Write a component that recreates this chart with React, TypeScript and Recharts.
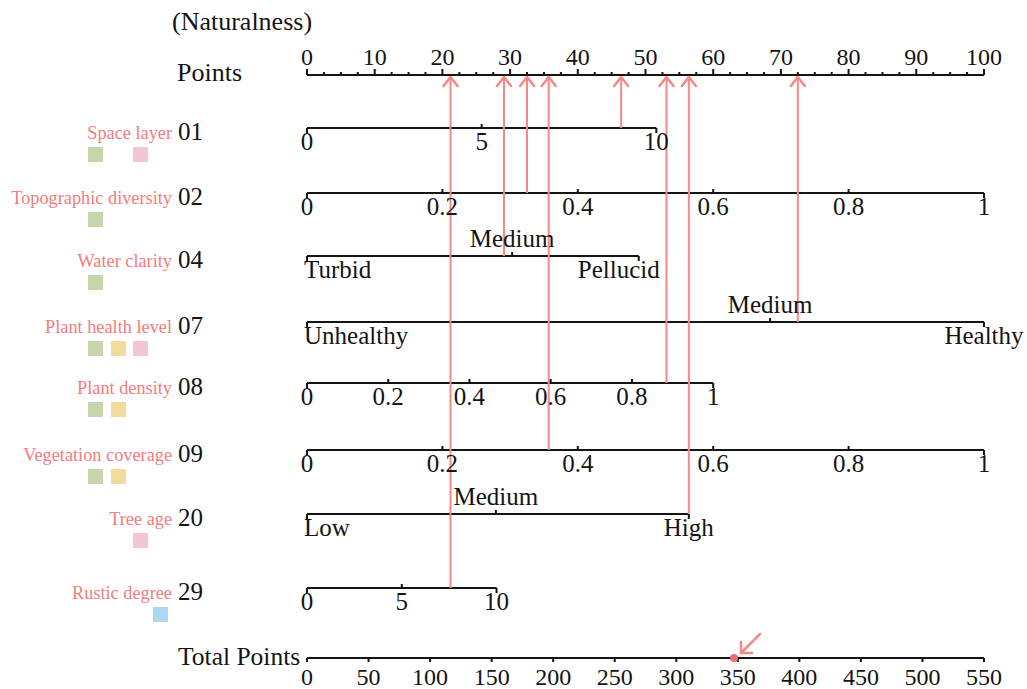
import React from 'react';
import { ComposedChart, XAxis, YAxis, Scatter, ReferenceLine } from 'recharts';

const W = 1027;
const H = 689;
const FONT = '"Liberation Serif", "Times New Roman", Times, serif';
const INK = '#141414';
const NAME_RED = '#f47c7c';
const ARROW_RED = '#f78888';

const GROUP_COLORS: Record<string, string> = {
  green: '#c6d6aa',
  yellow: '#f2dc9b',
  pink: '#f3c6d6',
  blue: '#afd6ef',
};
// horizontal offset of each group swatch from the start of the scales
const GROUP_OFFSET: Record<string, number> = { green: -219, yellow: -196, pink: -174, blue: -154 };

// ---- Points axis (0–100) ----
const pointsMajorTicks = [0, 10, 20, 30, 40, 50, 60, 70, 80, 90, 100];
const pointsMinorStep = 2.5;

// ---- Total points axis ----
const totalTicks = [0, 50, 100, 150, 200, 250, 300, 350, 400, 450, 500, 550];
const totalMax = 550;

// ---- Factors ----
const factorNames = [
  'Space layer',
  'Topographic diversity',
  'Water clarity',
  'Plant health level',
  'Plant density',
  'Vegetation coverage',
  'Tree age',
  'Rustic degree',
];
const factorCodes = ['01', '02', '04', '07', '08', '09', '20', '29'];
const factorGroups = [
  ['green', 'pink'],
  ['green'],
  ['green'],
  ['green', 'yellow', 'pink'],
  ['green', 'yellow'],
  ['green', 'yellow'],
  ['pink'],
  ['blue'],
];

// Numeric scales: tick values and the points reached at the top value
const spaceLayerValues = [0, 5, 10];
const spaceLayerTopPoints = 51.6;
const topographicValues = [0, 0.2, 0.4, 0.6, 0.8, 1];
const topographicTopPoints = 100;
const plantDensityValues = [0, 0.2, 0.4, 0.6, 0.8, 1];
const plantDensityTopPoints = 60;
const coverageValues = [0, 0.2, 0.4, 0.6, 0.8, 1];
const coverageTopPoints = 100;
const rusticValues = [0, 5, 10];
const rusticTopPoints = 28;

// Ordinal scales: levels and the points of each level
const waterLevels = ['Turbid', 'Medium', 'Pellucid'];
const waterPoints = [0, 30.3, 49.0];
const healthLevels = ['Unhealthy', 'Medium', 'Healthy'];
const healthPoints = [0, 68.4, 100];
const treeAgeLevels = ['Low', 'Medium', 'High'];
const treeAgePoints = [0, 27.9, 56.4];

// Points picked up on each factor scale for the scored site
const profilePoints = [46.4, 32.5, 29.1, 72.5, 53.1, 35.7, 56.4, 21.2];

// ---- Vertical layout of the scales ----
const LAYOUT = {
  pointsY: 75,
  factorY: [128, 193, 256, 322, 383, 450, 514, 588],
  totalY: 658,
};

type Mark = {
  x: number;
  y: number;
  label: string;
  end: boolean;
  above: boolean;
  anchor: 'start' | 'middle' | 'end';
  dx: number;
};

function numericScale(values: number[], topPoints: number, y: number): Mark[] {
  const maxV = values[values.length - 1];
  return values.map((v, i) => ({
    x: (v / maxV) * topPoints,
    y,
    label: String(v),
    end: i === 0 || i === values.length - 1,
    above: false,
    anchor: 'middle',
    dx: 0,
  }));
}

function levelScale(levels: string[], points: number[], y: number, lastDx = 0): Mark[] {
  const last = levels.length - 1;
  return levels.map((l, i) => ({
    x: points[i],
    y,
    label: l,
    end: i === 0 || i === last,
    above: i > 0 && i < last,
    anchor: i === 0 ? 'start' : 'middle',
    dx: i === 0 ? -3 : i === last ? lastDx : 0,
  }));
}

const fy = LAYOUT.factorY;
const factorScales: Mark[][] = [
  numericScale(spaceLayerValues, spaceLayerTopPoints, fy[0]),
  numericScale(topographicValues, topographicTopPoints, fy[1]),
  levelScale(waterLevels, waterPoints, fy[2], -20),
  levelScale(healthLevels, healthPoints, fy[3]),
  numericScale(plantDensityValues, plantDensityTopPoints, fy[4]),
  numericScale(coverageValues, coverageTopPoints, fy[5]),
  levelScale(treeAgeLevels, treeAgePoints, fy[6]),
  numericScale(rusticValues, rusticTopPoints, fy[7]),
];
const factorMarks = factorScales.flat();

const pointsMarks = (() => {
  const out: { x: number; y: number; major: boolean; label: string }[] = [];
  const count = Math.round(100 / pointsMinorStep);
  for (let i = 0; i <= count; i++) {
    const v = i * pointsMinorStep;
    const major = pointsMajorTicks.includes(v);
    out.push({ x: v, y: LAYOUT.pointsY, major, label: major ? String(v) : '' });
  }
  return out;
})();

const totalToPoints = (t: number) => (t / totalMax) * 100;
const totalMarks = totalTicks.map((t) => ({ x: totalToPoints(t), y: LAYOUT.totalY, label: String(t) }));

const factorLabelData = factorNames.map((name, i) => ({
  x: 0,
  y: fy[i],
  name,
  code: factorCodes[i],
  groups: factorGroups[i],
}));

const arrowData = profilePoints.map((p, i) => ({ x: p, y: LAYOUT.pointsY, from: fy[i] }));
const totalScore = profilePoints.reduce((a, b) => a + b, 0);
const totalDot = [{ x: totalToPoints(totalScore), y: LAYOUT.totalY, total: totalScore }];

// ---- shapes ----
const PointsTick = (props: any) => {
  const { cx, cy, payload } = props;
  return (
    <g>
      <line x1={cx} x2={cx} y1={cy} y2={payload.major ? cy - 6 : cy - 3} stroke={INK} strokeWidth={2} />
      {payload.major && (
        <text x={cx} y={cy - 10} textAnchor="middle" fontFamily={FONT} fontSize={24} fill={INK}>
          {payload.label}
        </text>
      )}
    </g>
  );
};

const FactorTick = (props: any) => {
  const { cx, cy, payload } = props;
  const m: Mark = payload;
  return (
    <g>
      <line x1={cx} x2={cx} y1={cy} y2={m.end ? cy + 5 : cy - 4} stroke={INK} strokeWidth={2} />
      <text
        x={cx + m.dx}
        y={m.above ? cy - 9 : cy + 22}
        textAnchor={m.anchor}
        fontFamily={FONT}
        fontSize={25}
        fill={INK}
      >
        {m.label}
      </text>
    </g>
  );
};

const TotalTick = (props: any) => {
  const { cx, cy, payload } = props;
  return (
    <g>
      <line x1={cx} x2={cx} y1={cy} y2={cy + 4} stroke={INK} strokeWidth={2} />
      <text x={cx} y={cy + 27} textAnchor="middle" fontFamily={FONT} fontSize={24} fill={INK}>
        {payload.label}
      </text>
    </g>
  );
};

const FactorLabel = (props: any) => {
  const { cx, cy, payload } = props;
  return (
    <g>
      <text x={cx - 135} y={cy + 11} textAnchor="end" fontFamily={FONT} fontSize={18.3} fill={NAME_RED}>
        {payload.name}
      </text>
      <text x={cx - 129} y={cy + 12} textAnchor="start" fontFamily={FONT} fontSize={25} fill={INK}>
        {payload.code}
      </text>
      {payload.groups.map((g: string) => (
        <rect key={g} x={cx + GROUP_OFFSET[g]} y={cy + 19} width={15} height={15} fill={GROUP_COLORS[g]} />
      ))}
    </g>
  );
};

const PointsHeader = (props: any) => {
  const { cx, cy } = props;
  return (
    <g>
      <text x={cx - 135} y={cy - 45} fontFamily={FONT} fontSize={26} fill={INK}>
        (Naturalness)
      </text>
      <text x={cx - 130} y={cy + 6} fontFamily={FONT} fontSize={26} fill={INK}>
        Points
      </text>
    </g>
  );
};

const TotalHeader = (props: any) => {
  const { cx, cy } = props;
  return (
    <text x={cx - 129} y={cy + 7} fontFamily={FONT} fontSize={25.5} fill={INK}>
      Total Points
    </text>
  );
};

const ArrowHead = (props: any) => {
  const { cx, cy } = props;
  return (
    <polyline
      points={`${cx - 7},${cy + 11} ${cx},${cy + 2} ${cx + 7},${cy + 11}`}
      fill="none"
      stroke={ARROW_RED}
      strokeWidth={2.5}
      strokeLinecap="round"
      strokeLinejoin="round"
    />
  );
};

const TotalDot = (props: any) => {
  const { cx, cy } = props;
  const tx = cx + 7;
  const ty = cy - 5;
  return (
    <g>
      <circle cx={cx} cy={cy} r={4} fill="#f26d6d" />
      <line x1={tx} y1={ty} x2={tx + 19} y2={ty - 19} stroke={ARROW_RED} strokeWidth={2.5} strokeLinecap="round" />
      <polyline
        points={`${tx},${ty - 11} ${tx},${ty} ${tx + 11},${ty}`}
        fill="none"
        stroke={ARROW_RED}
        strokeWidth={2.5}
        strokeLinecap="round"
        strokeLinejoin="round"
      />
    </g>
  );
};

export default function App() {
  return (
    <div style={{ position: 'absolute', left: 0, top: 0, width: W, height: H, background: '#fff' }}>
      <ComposedChart width={W} height={H} margin={{ top: 0, right: 43, bottom: 0, left: 307 }}>
        <XAxis type="number" dataKey="x" domain={[0, 100]} hide />
        <YAxis type="number" dataKey="y" domain={[0, H]} reversed hide />

        {/* Points scale */}
        <ReferenceLine
          segment={[{ x: 0, y: LAYOUT.pointsY }, { x: 100, y: LAYOUT.pointsY }]}
          stroke={INK}
          strokeWidth={2}
        />
        <Scatter data={pointsMarks} shape={PointsTick} isAnimationActive={false} />
        <Scatter data={[{ x: 0, y: LAYOUT.pointsY }]} shape={PointsHeader} isAnimationActive={false} />

        {/* factor scales */}
        {factorScales.map((marks, i) => (
          <ReferenceLine
            key={`row-${i}`}
            segment={[{ x: 0, y: fy[i] }, { x: marks[marks.length - 1].x, y: fy[i] }]}
            stroke={INK}
            strokeWidth={2}
          />
        ))}
        <Scatter data={factorMarks} shape={FactorTick} isAnimationActive={false} />
        <Scatter data={factorLabelData} shape={FactorLabel} isAnimationActive={false} />

        {/* Total points scale */}
        <ReferenceLine
          segment={[{ x: 0, y: LAYOUT.totalY }, { x: 100, y: LAYOUT.totalY }]}
          stroke={INK}
          strokeWidth={2}
        />
        <Scatter data={totalMarks} shape={TotalTick} isAnimationActive={false} />
        <Scatter data={[{ x: 0, y: LAYOUT.totalY }]} shape={TotalHeader} isAnimationActive={false} />

        {/* reading arrows from each factor up to the Points scale */}
        {arrowData.map((a, i) => (
          <ReferenceLine
            key={`arrow-${i}`}
            segment={[{ x: a.x, y: a.from }, { x: a.x, y: LAYOUT.pointsY + 2 }]}
            stroke={ARROW_RED}
            strokeWidth={2}
          />
        ))}
        <Scatter data={arrowData} shape={ArrowHead} isAnimationActive={false} />
        <Scatter data={totalDot} shape={TotalDot} isAnimationActive={false} />
      </ComposedChart>
    </div>
  );
}
